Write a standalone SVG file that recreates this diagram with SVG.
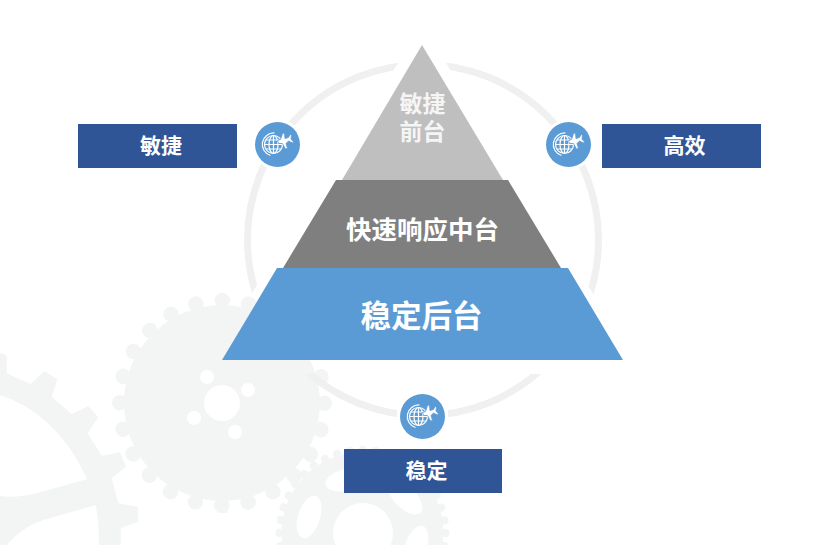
<svg xmlns="http://www.w3.org/2000/svg" width="836" height="545" viewBox="0 0 836 545">
<style>
text{font-family:"Noto Sans CJK SC","Liberation Sans",sans-serif;font-weight:700;text-anchor:middle;fill:#fff}
.gear{fill:#f3f4f4}
.hole{fill:#fff}
.box{fill:#2f5597}
.disc{fill:#5b9bd5}
.gl{fill:none;stroke:#fff;stroke-width:1.200}
</style>
<defs>
<mask id="ringMask" maskUnits="userSpaceOnUse" x="0" y="0" width="836" height="545">
<rect width="836" height="545" fill="#fff"/>
<polygon points="422,45 623,360 222,360" fill="#000" stroke="#000" stroke-width="21"/>
<rect x="200" y="355" width="440" height="19" fill="#000"/>
<circle cx="277.500" cy="144.500" r="25.500" fill="#000"/>
<circle cx="568.500" cy="144.500" r="25.500" fill="#000"/>
<rect x="397" y="391" width="51" height="51" fill="#000"/>
</mask>
<g id="globe">
<circle class="disc" r="22.500"/>
<circle class="gl" cx="-4" cy="0" r="9"/>
<ellipse class="gl" cx="-4" cy="0" rx="4.500" ry="9"/>
<path class="gl" d="M-4-9V9M-13 0H5M-12-4.500H4M-12 4.500H4"/>
<path class="gl" d="M-3-11.500A11.500 11.500 0 0 0 -7 11"/>
<path fill="#fff" stroke="#5b9bd5" stroke-width=".8" d="M0-4L3-5 5-11 7-11.500 7.500-6 11-7 12.500-10 14-9.500 13.500-5.500 16-2.500 15-1.500 11-3.500 8.500-1 10 4 8 4.500 5-1 1-1Z"/>
</g>
</defs>

<g id="background-gears">
<path class="gear" fill-rule="evenodd" transform="translate(0,280) scale(.33333)" d="M0 220L20 225V280L92 312 133 273 172 298 155 350 215 403 265 378 295 412 263 460 305 527 360 517 378 560 335 595 355 670 413 680 415 725 362 745V795H0ZM0 345Q170 400 262 597L110 640Q50 655 0 648ZM288 675L130 720Q60 745 20 795H297Q297 735 288 675Z"/>
<g id="gear-small">
<circle class="gear" cx="362.500" cy="533" r="81"/>
<circle cx="362.500" cy="533" r="83" fill="none" stroke="#f3f4f4" stroke-width="8" stroke-linecap="round" pathLength="40" stroke-dasharray="0.02 0.98"/>
<circle class="hole" cx="363" cy="533" r="30"/>
<ellipse class="hole" cx="309" cy="517" rx="11" ry="22" transform="rotate(18 309 517)"/>
<ellipse class="hole" cx="347" cy="480" rx="11" ry="22" transform="rotate(78 347 480)"/>
<ellipse class="hole" cx="405" cy="497" rx="11" ry="22" transform="rotate(-45 405 497)"/>
<ellipse class="hole" cx="416" cy="547" rx="11" ry="22" transform="rotate(18 416 547)"/>
</g>
<g id="gear-large">
<circle class="gear" cx="222" cy="403" r="98"/>
<circle cx="222" cy="403" r="102.500" fill="none" stroke="#f3f4f4" stroke-width="15" stroke-linecap="round" pathLength="24" stroke-dasharray="0.02 0.98"/>
<circle class="hole" cx="222" cy="403" r="18"/>
<circle class="hole" cx="207" cy="377" r="7"/>
<circle class="hole" cx="248" cy="390" r="7"/>
<circle class="hole" cx="194" cy="418" r="7"/>
<circle class="hole" cx="235" cy="432" r="7"/>
</g>
</g>

<g id="connectors">
<circle cx="423" cy="240" r="175.500" fill="none" stroke="#f0f0f0" stroke-width="7" mask="url(#ringMask)"/>
</g>

<g id="tier-top">
<polygon points="422,45 503,180 342,180" fill="#bfbfbf"/>
<text font-size="23" style="fill:#f5f5f5"><tspan x="422.500" y="112">敏捷</tspan><tspan x="422.500" y="140">前台</tspan></text>
</g>
<g id="tier-middle">
<polygon points="336,180 508,180 561,268 283,268" fill="#7f7f7f"/>
<text x="422.500" y="239" font-size="25.500">快速响应中台</text>
</g>
<g id="tier-bottom">
<polygon points="277,268 568,268 623,360 222,360" fill="#5b9bd5"/>
<text x="421.500" y="327" font-size="30.500">稳定后台</text>
</g>

<g id="node-agile">
<rect class="box" x="78" y="124" width="159" height="44"/>
<text x="161" y="153" font-size="21">敏捷</text>
<use href="#globe" x="277.500" y="144.500"/>
</g>
<g id="node-efficient">
<rect class="box" x="602" y="124" width="159" height="44"/>
<text x="684.500" y="153" font-size="21">高效</text>
<use href="#globe" x="568.500" y="144.500"/>
</g>
<g id="node-stable">
<rect class="box" x="344" y="449" width="158" height="44"/>
<text x="426.500" y="478" font-size="21">稳定</text>
<use href="#globe" x="422.500" y="416.500"/>
</g>
</svg>
